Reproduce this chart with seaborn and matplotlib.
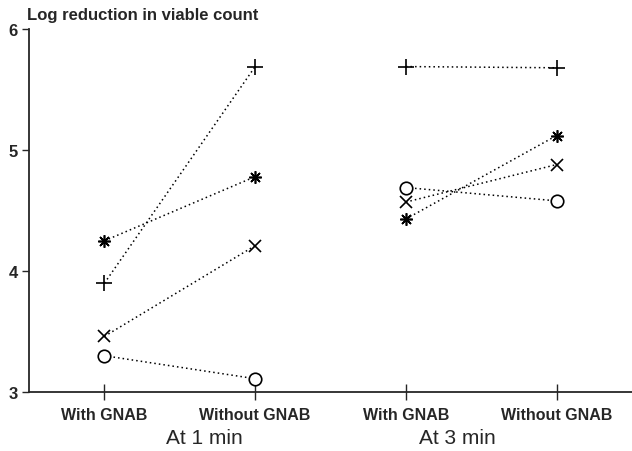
import numpy as np
import pandas as pd
import matplotlib
matplotlib.use('Agg')
import matplotlib.pyplot as plt
import seaborn as sns

sns.set_style('ticks')
plt.rcParams['font.family'] = ['Liberation Sans', 'DejaVu Sans']

# data
conditions = ['With GNAB', 'Without GNAB', 'With GNAB', 'Without GNAB']
groups = ['At 1 min', 'At 3 min']
series = ['plus', 'star', 'cross', 'circle']
plus_1 = [3.90, 5.69]
star_1 = [4.25, 4.78]
cross_1 = [3.46, 4.21]
circle_1 = [3.30, 3.11]
plus_3 = [5.69, 5.68]
star_3 = [4.43, 5.12]
cross_3 = [4.57, 4.88]
circle_3 = [4.69, 4.58]

rows = []
vals = {('At 1 min', 'plus'): plus_1, ('At 1 min', 'star'): star_1,
        ('At 1 min', 'cross'): cross_1, ('At 1 min', 'circle'): circle_1,
        ('At 3 min', 'plus'): plus_3, ('At 3 min', 'star'): star_3,
        ('At 3 min', 'cross'): cross_3, ('At 3 min', 'circle'): circle_3}
for gi, g in enumerate(groups):
    for s in series:
        for ci, v in enumerate(vals[(g, s)]):
            rows.append({'group': g, 'series': s, 'pos': gi * 2 + ci, 'value': v})
df = pd.DataFrame(rows)

markers = {'plus': '+', 'star': (8, 2, 0), 'cross': 'x', 'circle': 'o'}
msizes = {'plus': 12, 'star': 9, 'cross': 9, 'circle': 9}

fig = plt.figure(figsize=(6.32, 4.52), dpi=100)
ax = fig.add_axes([0.046, 0.1305, 0.954, 0.803])

for g in groups:
    for s in series:
        d = df[(df.group == g) & (df.series == s)]
        sns.lineplot(data=d, x='pos', y='value', ax=ax, color='black',
                     linestyle=(0, (1, 2)), linewidth=1.1, marker=markers[s],
                     markersize=msizes[s], markerfacecolor='white',
                     markeredgecolor='black', markeredgewidth=1.2,
                     legend=False, estimator=None)

ax.set_xlim(-0.5, 3.5)
ax.set_ylim(3, 6)
ax.set_yticks([3, 4, 5, 6])
ax.set_yticklabels(['3', '4', '5', '6'], fontweight='bold', fontsize=12)
ax.set_xticks(range(4))
ax.set_xticklabels(conditions, fontweight='bold', fontsize=11.5)
ax.tick_params(axis='x', direction='inout', length=12, width=1, pad=5)
ax.tick_params(axis='y', direction='out', length=5, width=1, pad=3)
ax.set_xlabel('')
ax.set_ylabel('')
for sp in ['top', 'right']:
    ax.spines[sp].set_visible(False)
ax.spines['left'].set_linewidth(1.3)
ax.spines['bottom'].set_linewidth(1.3)

fig.text(0.043, 0.966, 'Log reduction in viable count', fontsize=12,
         fontweight='bold', ha='left', va='center')
ax.text(0.66, -0.125, groups[0], transform=ax.get_xaxis_transform(),
        fontsize=15, ha='center', va='center')
ax.text(2.34, -0.125, groups[1], transform=ax.get_xaxis_transform(),
        fontsize=15, ha='center', va='center')

fig.savefig('out.png', dpi=100)
